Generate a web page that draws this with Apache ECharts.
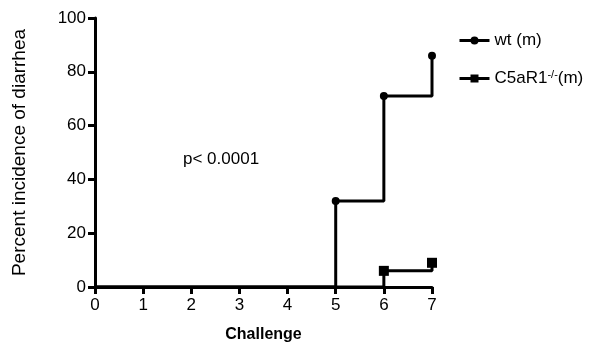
<!DOCTYPE html>
<html>
<head>
<meta charset="utf-8">
<script src="https://cdn.jsdelivr.net/npm/echarts@6/dist/echarts.min.js"></script>
<style>
html,body{margin:0;padding:0;background:#fff;}
#chart{width:605px;height:361px;}
</style>
</head>
<body>
<div id="chart"></div>
<script>
// 数据
var challenge = [0, 1, 2, 3, 4, 5, 6, 7];
var wtValues = [0, 0, 0, 0, 0, 32, 71, 86];
var koValues = [0, 0, 0, 0, 0, 0, 6, 9];
var seriesNames = ['wt (m)', 'C5aR1 (m)'];
var pText = 'p< 0.0001';

var font = 'Liberation Sans';

function toData(vals) {
	var d = [];
	for (var i = 0; i < vals.length; i++) {
		d.push({ value: [challenge[i], vals[i]], symbolSize: vals[i] > 0 ? undefined : 0 });
	}
	return d;
}

var myChart = echarts.init(document.getElementById('chart'));

var option = {
	animation: false,
	grid: { left: 95, right: 173, top: 18, bottom: 74 },
	title: {
		text: pText,
		left: 178, top: 146,
		textStyle: { fontFamily: font, fontSize: 17, fontWeight: 'normal', color: '#000' }
	},
	legend: {
		orient: 'vertical',
		left: 453, top: 27,
		itemWidth: 30, itemHeight: 10, itemGap: 20,
		data: seriesNames,
		lineStyle: { width: 3 },
		formatter: function (name) {
			if (name == 'C5aR1 (m)') return 'C5aR1{sup|-/-}(m)';
			return name;
		},
		textStyle: {
			fontFamily: font, fontSize: 17, color: '#000',
			rich: { sup: { fontFamily: font, fontSize: 11, verticalAlign: 'top', padding: [0, 0, 8, 0], color: '#000' } }
		}
	},
	xAxis: {
		type: 'value', min: 0, max: 7, interval: 1,
		name: 'Challenge', nameLocation: 'middle', nameGap: 40,
		nameTextStyle: { fontFamily: font, fontSize: 16, fontWeight: 'bold', color: '#000' },
		axisLine: { show: true, lineStyle: { color: '#000', width: 3 } },
		axisTick: { show: true, inside: false, length: 7, lineStyle: { color: '#000', width: 3 } },
		axisLabel: { fontFamily: font, fontSize: 17, color: '#000', margin: 10 },
		splitLine: { show: false }
	},
	yAxis: {
		type: 'value', min: 0, max: 100, interval: 20,
		name: 'Percent incidence of diarrhea', nameLocation: 'middle', nameGap: 66,
		nameTextStyle: { fontFamily: font, fontSize: 19, color: '#000' },
		axisLine: { show: true, lineStyle: { color: '#000', width: 3 } },
		axisTick: { show: true, inside: false, length: 7, lineStyle: { color: '#000', width: 3 } },
		axisLabel: { fontFamily: font, fontSize: 17, color: '#000', margin: 9 },
		splitLine: { show: false }
	},
	series: [
		{
			name: seriesNames[0], type: 'line', step: 'end',
			data: toData(wtValues),
			symbol: 'circle', symbolSize: 8,
			itemStyle: { color: '#000' },
			lineStyle: { color: '#000', width: 3 }
		},
		{
			name: seriesNames[1], type: 'line', step: 'end',
			data: toData(koValues),
			symbol: 'rect', symbolSize: 10,
			itemStyle: { color: '#000' },
			lineStyle: { color: '#000', width: 3 }
		}
	]
};

myChart.setOption(option);
</script>
</body>
</html>
